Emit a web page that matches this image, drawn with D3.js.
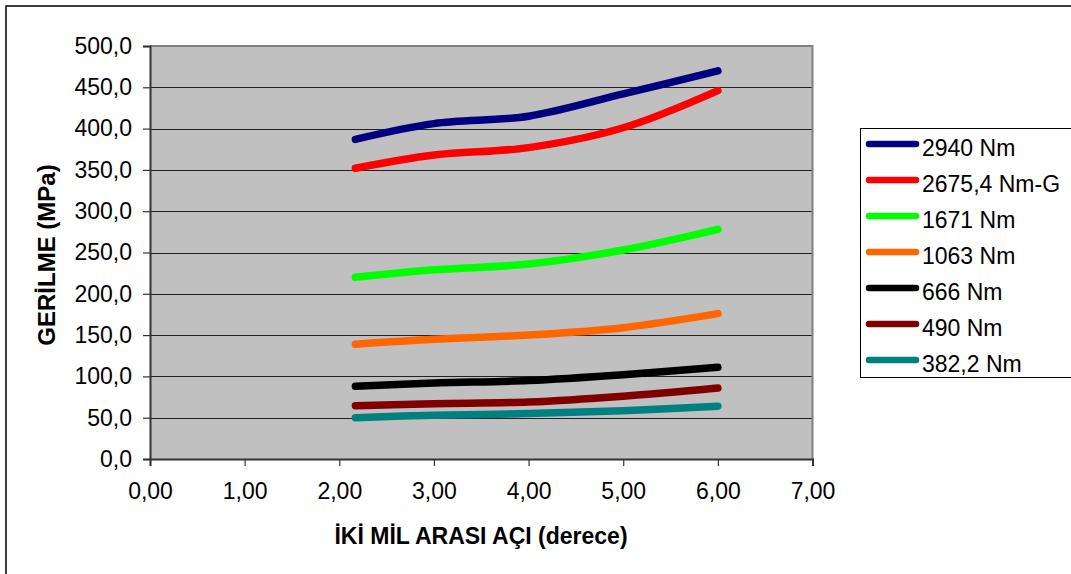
<!DOCTYPE html>
<html>
<head>
<meta charset="utf-8">
<script src="https://cdn.jsdelivr.net/npm/d3@7"></script>
<style>
  html, body { margin: 0; padding: 0; background: #fff; }
  svg { display: block; font-family: "Liberation Sans", Arial, sans-serif; }
</style>
</head>
<body>
<svg id="chart" width="1071" height="574"></svg>
<script>
// Angle between shafts (degrees)
const angles = [2.17, 3.0, 4.0, 5.0, 6.0];

// Series names (torque) and colours
const seriesNames = ["2940 Nm", "2675,4 Nm-G", "1671 Nm", "1063 Nm", "666 Nm", "490 Nm", "382,2 Nm"];
const seriesColors = ["#000080", "#FF0000", "#00FF00", "#FF6600", "#000000", "#800000", "#008080"];

// Stress values (MPa) per series
const s2940 = [387, 406, 415, 442, 470];
const s2675 = [352, 368, 377, 401, 446];
const s1671 = [220, 229, 236, 253, 278];
const s1063 = [139, 145, 150, 159, 176];
const s666  = [88, 92, 95, 102, 111];
const s490  = [64.5, 67, 69, 76, 86];
const s382  = [50, 53, 55, 58.5, 64];
const seriesValues = [s2940, s2675, s1671, s1063, s666, s490, s382];

// Axis ticks
const yTicks = [0, 50, 100, 150, 200, 250, 300, 350, 400, 450, 500];
const xTicks = [0, 1, 2, 3, 4, 5, 6, 7];

const svg = d3.select("#chart");

// Outer chart frame
svg.append("path")
  .attr("d", "M6,580 L6,6 L1080,6")
  .attr("fill", "none")
  .attr("stroke", "#000")
  .attr("stroke-width", 1.5);

const plot = { left: 150, top: 46, right: 812.5, bottom: 459 };

const x = d3.scaleLinear().domain([0, 7]).range([plot.left, plot.right]);
const y = d3.scaleLinear().domain([0, 500]).range([plot.bottom, plot.top]);

// Plot background
svg.append("rect")
  .attr("x", plot.left).attr("y", plot.top)
  .attr("width", plot.right - plot.left).attr("height", plot.bottom - plot.top)
  .attr("fill", "#C0C0C0");

// Horizontal gridlines
svg.append("g")
  .selectAll("line")
  .data(yTicks.filter(d => d > 0 && d < 500))
  .join("line")
  .attr("x1", plot.left).attr("x2", plot.right)
  .attr("y1", d => Math.round(y(d)) + 0.5).attr("y2", d => Math.round(y(d)) + 0.5)
  .attr("stroke", "#222")
  .attr("stroke-width", 1);

// Plot frame: top & right in grey
svg.append("path")
  .attr("d", `M${plot.left},${plot.top} L${plot.right},${plot.top} L${plot.right},${plot.bottom}`)
  .attr("fill", "none")
  .attr("stroke", "#808080")
  .attr("stroke-width", 2);

const fmtY = d => d3.format(".1f")(d).replace(".", ",");
const fmtX = d => d3.format(".2f")(d).replace(".", ",");

// Y axis
const yAxis = svg.append("g")
  .attr("transform", `translate(${plot.left},0)`)
  .call(d3.axisLeft(y).tickValues(yTicks).tickFormat(fmtY).tickSize(7).tickPadding(11));
yAxis.select(".domain").attr("stroke", "#333").attr("stroke-width", 2);
yAxis.selectAll(".tick line").attr("stroke", "#333").attr("stroke-width", 1.2);
yAxis.selectAll(".tick text")
  .attr("font-size", 23).attr("fill", "#000")
  .attr("font-family", "Liberation Sans, Arial, sans-serif");

// X axis
const xAxis = svg.append("g")
  .attr("transform", `translate(0,${plot.bottom})`)
  .call(d3.axisBottom(x).tickValues(xTicks).tickFormat(fmtX).tickSize(7).tickPadding(17));
xAxis.select(".domain").attr("stroke", "#333").attr("stroke-width", 2);
xAxis.selectAll(".tick line").attr("stroke", "#333").attr("stroke-width", 1.2);
xAxis.selectAll(".tick text")
  .attr("font-size", 23).attr("fill", "#000")
  .attr("font-family", "Liberation Sans, Arial, sans-serif");

// Series lines (smoothed)
const line = d3.line()
  .x((d, i) => x(angles[i]))
  .y(d => y(d))
  .curve(d3.curveCatmullRom.alpha(0.5));

svg.append("g")
  .selectAll("path")
  .data(seriesValues)
  .join("path")
  .attr("d", d => line(d))
  .attr("fill", "none")
  .attr("stroke", (d, i) => seriesColors[i])
  .attr("stroke-width", 7.5)
  .attr("stroke-linecap", "round")
  .attr("stroke-linejoin", "round");

// Axis titles
svg.append("text")
  .attr("x", 481).attr("y", 544)
  .attr("text-anchor", "middle")
  .attr("font-size", 23).attr("font-weight", "bold")
  .text("İKİ MİL ARASI AÇI (derece)");

svg.append("text")
  .attr("transform", "translate(55,255) rotate(-90)")
  .attr("text-anchor", "middle")
  .attr("font-size", 24).attr("font-weight", "bold")
  .text("GERİLME (MPa)");

// Legend
const legend = svg.append("g");
legend.append("rect")
  .attr("x", 860.5).attr("y", 128.5)
  .attr("width", 240).attr("height", 249)
  .attr("fill", "#fff")
  .attr("stroke", "#000")
  .attr("stroke-width", 1);

const item = legend.selectAll("g.item")
  .data(seriesNames)
  .join("g")
  .attr("class", "item")
  .attr("transform", (d, i) => `translate(0,${144 + i * 36})`);
item.append("line")
  .attr("x1", 869).attr("x2", 916)
  .attr("y1", 0).attr("y2", 0)
  .attr("stroke", (d, i) => seriesColors[i])
  .attr("stroke-width", 6.5)
  .attr("stroke-linecap", "round");
item.append("text")
  .attr("x", 922).attr("y", 12)
  .attr("font-size", 23)
  .text(d => d);
</script>
</body>
</html>
